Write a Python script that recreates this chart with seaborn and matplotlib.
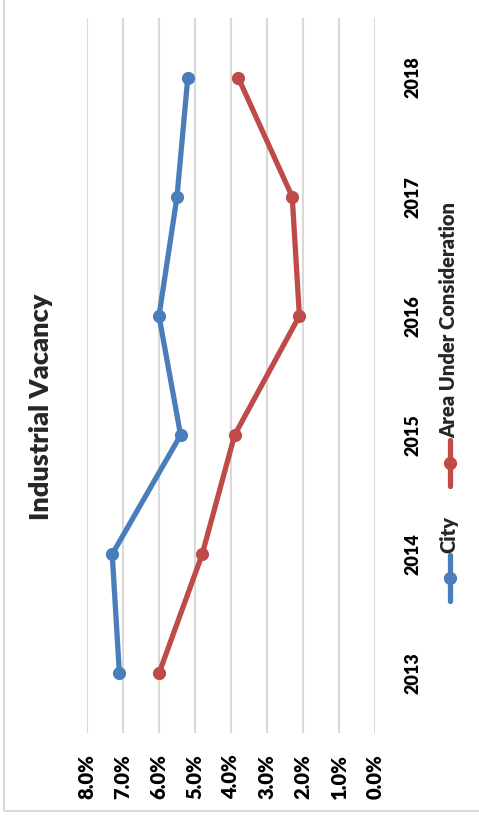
import matplotlib
matplotlib.use("Agg")
import matplotlib.pyplot as plt
from matplotlib.lines import Line2D
from matplotlib.patches import Rectangle
from matplotlib.ticker import PercentFormatter
import seaborn as sns
import pandas as pd

years = [2013, 2014, 2015, 2016, 2017, 2018]
city = [7.1, 7.3, 5.4, 6.0, 5.5, 5.2]
area = [6.0, 4.8, 3.9, 2.1, 2.3, 3.8]
series_names = ["City", "Area Under Consideration"]
value_ticks = [0, 1, 2, 3, 4, 5, 6, 7, 8]
title = "Industrial Vacancy"

BLUE = "#4A7EBB"
RED = "#BE4B48"

sns.set_theme(style="white")
plt.rcParams["font.family"] = ["Lato", "DejaVu Sans"]
plt.rcParams["font.weight"] = "bold"

df = pd.DataFrame({
    "year": years * 2,
    "vacancy": city + area,
    "series": [series_names[0]] * len(years) + [series_names[1]] * len(years),
})

W, H = 479, 819
fig = plt.figure(figsize=(W / 100, H / 100), dpi=100)

# chart frame
fig.add_artist(Rectangle((4 / W, 1 - 811 / H), 1.2, 1.2, transform=fig.transFigure,
                         fill=False, edgecolor="#D9D9D9", linewidth=1.5))

# plot area (chart laid out sideways: values run right-to-left, years bottom-to-top)
ax = fig.add_axes([87 / W, 1 - 733 / H, (375 - 87) / W, (733 - 18) / H])
sns.lineplot(data=df, x="vacancy", y="year", hue="series", orient="y", sort=False,
             palette=[BLUE, RED], marker="o", markersize=9.5, markeredgewidth=0,
             linewidth=3.8, legend=False, ax=ax)

ax.set_xlim(8, 0)
ax.set_ylim(years[0] - 0.5, years[-1] + 0.5)
ax.set_xticks(value_ticks)
ax.xaxis.set_major_formatter(PercentFormatter(decimals=1))
ax.set_yticks(years)
ax.yaxis.tick_right()
ax.tick_params(axis="x", labelrotation=90, labelsize=14.5, pad=15, length=0, colors="black")
ax.tick_params(axis="y", labelrotation=90, labelsize=13, pad=21, length=0, colors="black")
for lab in ax.get_xticklabels() + ax.get_yticklabels():
    lab.set_fontweight("heavy")
for lab in ax.get_yticklabels():
    lab.set_va("center")
ax.grid(axis="x", color="#D9D9D9", linewidth=1.5)
ax.grid(axis="y", visible=False)
for s in ax.spines.values():
    s.set_visible(False)
ax.set_xlabel("")
ax.set_ylabel("")

# title
fig.text(41 / W, 1 - 407 / H, title, rotation=90, ha="center", va="center",
         fontsize=19.5, fontweight="heavy")

# legend, laid out sideways to match the chart
def legend_entry(y_mid, color, label):
    x = 450 / W
    fig.add_artist(Line2D([x, x], [1 - (y_mid + 23) / H, 1 - (y_mid - 23) / H],
                          transform=fig.transFigure, color=color, linewidth=3.8))
    fig.add_artist(Line2D([x], [1 - y_mid / H], transform=fig.transFigure, color=color,
                          marker="o", markersize=9.5, markeredgewidth=0))
    fig.text(x - 1 / W, 1 - (y_mid - 25) / H, label, rotation=90, ha="center", va="bottom",
             fontsize=14.5, fontweight="heavy")

legend_entry(578, BLUE, series_names[0])
legend_entry(463, RED, series_names[1])

fig.savefig("out.png", dpi=100, facecolor="white")
